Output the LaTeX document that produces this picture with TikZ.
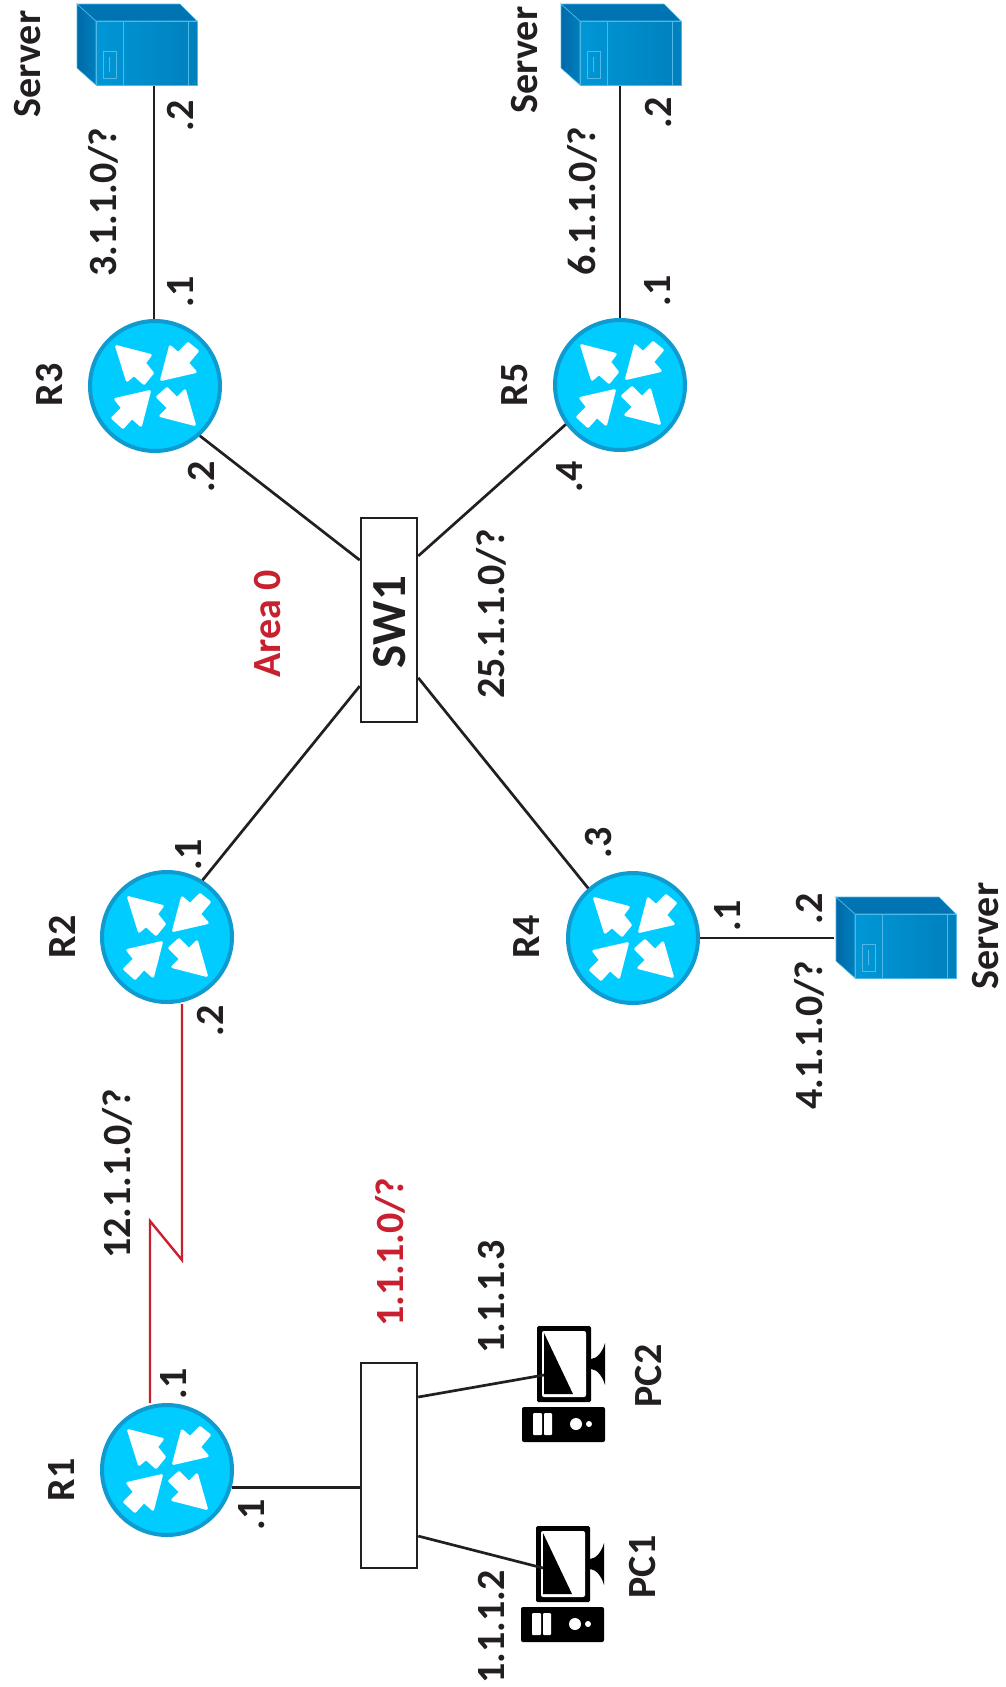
\documentclass[tikz,border=0pt]{standalone}
\usepackage{fontspec}
\setmainfont{Carlito}
\usetikzlibrary{calc}
\definecolor{ink}{HTML}{231F20}
\definecolor{redc}{HTML}{C8202F}
\definecolor{rfill}{HTML}{00CCFF}
\definecolor{rline}{HTML}{0F9BCF}
\definecolor{sline}{HTML}{4FB8E6}
\definecolor{srvdk}{HTML}{0069A8}
\definecolor{srvmd}{HTML}{0080BD}
\definecolor{srvlt}{HTML}{0097D6}
\definecolor{srvtop}{HTML}{0073B2}
\tikzset{
 lab/.style={rotate=90,font=\fontsize{40}{40}\bfseries\selectfont,text=ink,inner sep=0pt},
 redlab/.style={lab,text=redc},
 bigl/.style={lab,font=\fontsize{49}{49}\bfseries\selectfont},
 link/.style={draw=ink,line width=2.7pt},
 serial/.style={draw=redc,line width=2.4pt,line join=miter},
 box/.style={draw=ink,fill=white,line width=2.5pt,rectangle,minimum width=56pt,inner sep=0pt},
 router/.style={circle,draw=rline,fill=rfill,line width=4pt,minimum size=130pt,inner sep=0pt},
 rarrow/.style={fill=white,draw=white,line width=2pt,line join=round,rounded corners=.6pt},
 pics/rarrows/.style={code={
  \path[rarrow] (-39,-40)--(-4,-31)--(-10,-23)--(-2,-13)--(-11,-2)--(-21,-11)--(-28,-5)--cycle;
  \path[rarrow] (6,-6)--(41,-14)--(33,-23)--(43,-35)--(33,-43)--(23,-33)--(15,-40)--cycle;
  \path[rarrow] (-5,5)--(-40,13)--(-33,22)--(-43,32)--(-32,42)--(-23,32)--(-14,40)--cycle;
  \path[rarrow] (40,39)--(5,30)--(13,22)--(2,11)--(12,2)--(22,12)--(30,4)--cycle;
 }},
 pics/serverpic/.style={code={
  \shade[left color=srvdk,right color=srvmd,draw=sline,line width=.6pt] (77,4)--(96,21)--(96,85)--(77,68)--cycle;
  \fill[srvtop,draw=sline,line width=.6pt] (77,4)--(180,4)--(197,21)--(96,21)--cycle;
  \shade[left color=srvlt,right color=srvmd,draw=sline,line width=.6pt] (96,21) rectangle (197,85);
  \draw[sline,line width=.6pt] (123,21)--(123,85) (188,21)--(188,85);
  \draw[sline,line width=.6pt] (103,51) rectangle (116,78) (109,57)--(109,72);
 }},
 pics/pcpic/.style={code={
  \fill[black,rounded corners=1.5pt] (537,1326) rectangle (591,1402);
  \fill[white,rounded corners=2pt] (542,1331) rectangle (586,1397);
  \fill[black] (544,1333)--(573,1394)--(544,1394)--cycle;
  \fill[black] (591,1359) .. controls (597,1359) and (603,1351) .. (605,1343) -- (605,1385) .. controls (603,1377) and (597,1369) .. (591,1369) -- cycle;
  \fill[black,rounded corners=2pt] (522,1407) rectangle (605,1442);
  \fill[white,rounded corners=1pt] (533,1413) rectangle (542,1435);
  \fill[white,rounded corners=1pt] (544,1413) rectangle (552,1435);
  \fill[white] (576,1424) circle (6);
  \fill[white] (589,1424) circle (3);
 }},
}
\begin{document}
\begin{tikzpicture}[x=1pt,y=-1pt]
\useasboundingbox (0,0) rectangle (1005,1687);
\node[router] (r3) at (155,386) {};
\node[router] (r5) at (620,385) {};
\node[router] (r2) at (167,937) {};
\node[router] (r4) at (633,938) {};
\node[router] (r1) at (167,1470) {};
\foreach \x/\y in {155/386,620/385,167/937,633/938,167/1470}
  \pic at (\x,\y) {rarrows};
\node[box,minimum height=204pt] (sw1) at (389,620) {};
\node[box,minimum height=205pt] (lan) at (389,1465.5) {};
\pic at (0,0) {serverpic};
\pic at (484,0) {serverpic};
\pic at (759,893) {serverpic};
\pic at (0,0) {pcpic};
\pic at (-1,200) {pcpic};
\coordinate (s3) at (154,86);
\coordinate (s5) at (620,86);
\coordinate (s4) at (834,938);
\coordinate (pc2) at (544,1375);
\coordinate (pc1) at (543,1568);
\coordinate (z1) at (182,1260);
\coordinate (z2) at (150,1221);
\path[link] (r3.north -| s3) -- (s3);
\path[link] (r5.north) -- (s5);
\path[link] (r4.east) -- (s4 |- r4.east);
\path[link] (r3.-48) -- ($(sw1.north west)!.21!(sw1.south west)$);
\path[link] (r5.216) -- ($(sw1.north east)!.19!(sw1.south east)$);
\path[link] (r2.58) -- ($(sw1.north west)!.82!(sw1.south west)$);
\path[link] (r4.132) -- ($(sw1.north east)!.78!(sw1.south east)$);
\path[link] (r1.-15) -- (lan.west |- r1.-15);
\path[link] ($(lan.north east)!.17!(lan.south east)$) -- (pc2);
\path[link] ($(lan.north east)!.84!(lan.south east)$) -- (pc1);
\path[serial] (r2.south -| z1) -- (z1) -- (z2) -- (r1.north -| z2);
\node[lab] (t1) at (28,64) {Server};
\node[lab] (t2) at (525,60) {Server};
\node[lab] (t3) at (986,936) {Server};
\node[lab] (t4) at (103,202) {3.1.1.0/?};
\node[lab] (t5) at (181,116) {.2};
\node[lab] (t6) at (181,292) {.1};
\node[lab] (t7) at (50,385) {R3};
\node[lab] (t8) at (202,477) {.2};
\node[redlab] (t9) at (268,624) {Area 0};
\node[bigl] (t10) at (390,622) {SW1};
\node[lab] (t11) at (582,201) {6.1.1.0/?};
\node[lab] (t12) at (659,113) {.2};
\node[lab] (t13) at (658,291) {.1};
\node[lab] (t14) at (515,385) {R5};
\node[lab] (t15) at (570,477) {.4};
\node[lab] (t16) at (491,614) {25.1.1.0/?};
\node[lab] (t17) at (62,937) {R2};
\node[lab] (t18) at (189,855) {.1};
\node[lab] (t19) at (211,1021) {.2};
\node[lab] (t20) at (599,843) {.3};
\node[lab] (t21) at (527,937) {R4};
\node[lab] (t22) at (728,916) {.1};
\node[lab] (t23) at (810,909) {.2};
\node[lab] (t24) at (809,1035) {4.1.1.0/?};
\node[lab] (t25) at (117,1174) {12.1.1.0/?};
\node[redlab] (t26) at (390,1252) {1.1.1.0/?};
\node[lab] (t27) at (492,1297) {1.1.1.3};
\node[lab] (t28) at (649,1376) {PC2};
\node[lab] (t29) at (643,1567) {PC1};
\node[lab] (t30) at (62,1480) {R1};
\node[lab] (t31) at (174,1384) {.1};
\node[lab] (t32) at (252,1515) {.1};
\node[lab] (t33) at (492,1627) {1.1.1.2};
\end{tikzpicture}
\end{document}
